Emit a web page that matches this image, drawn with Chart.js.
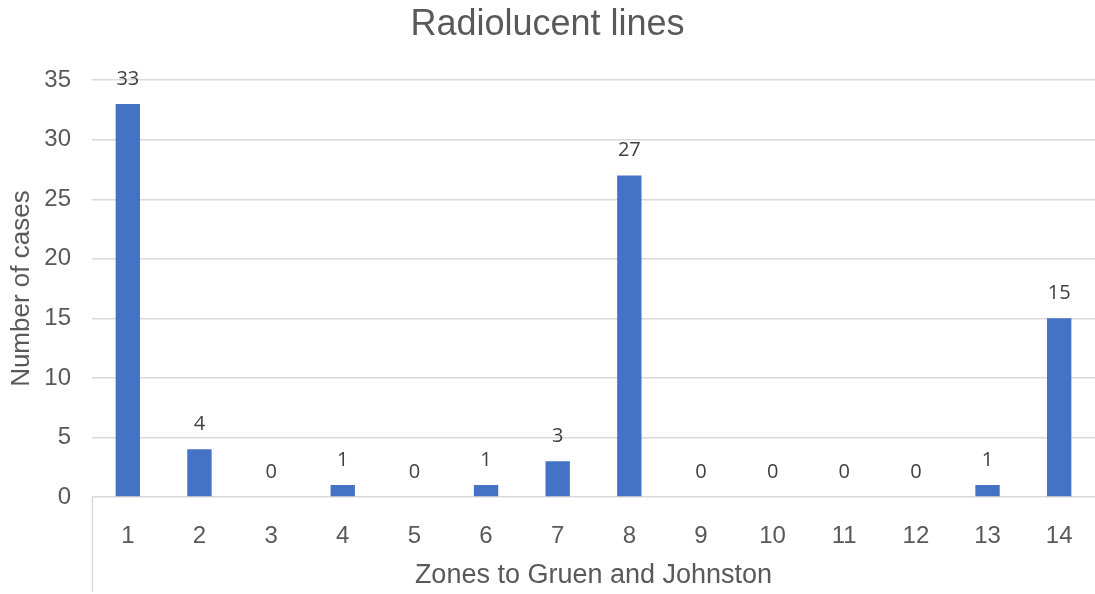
<!DOCTYPE html>
<html>
<head>
<meta charset="utf-8">
<title>Radiolucent lines</title>
<script src="https://cdn.jsdelivr.net/npm/chart.js@4/dist/chart.umd.min.js"></script>
<style>
    html, body { margin: 0; padding: 0; background: #fff; }
    #chart-wrap { width: 1095px; height: 594px; position: relative; }
</style>
</head>
<body>
<div id="chart-wrap"><canvas id="chart-radiolucent"></canvas></div>
<script>
const zones = ['1', '2', '3', '4', '5', '6', '7', '8', '9', '10', '11', '12', '13', '14'];
const cases = [33, 4, 0, 1, 0, 1, 3, 27, 0, 0, 0, 0, 1, 15];
const yTicks = [0, 5, 10, 15, 20, 25, 30, 35];

const AXIS_FONT = '"Liberation Sans", Arial, sans-serif';
const AXIS_COLOR = '#595959';
const GRID_COLOR = '#d9d9d9';

// values above each bar, like Excel data labels
const valueLabels = {
    id: 'valueLabels',
    afterDatasetsDraw(chart) {
        const ctx = chart.ctx;
        const meta = chart.getDatasetMeta(0);
        ctx.save();
        ctx.font = '20px "Open Sans", sans-serif';
        ctx.fillStyle = '#404040';
        ctx.textAlign = 'center';
        ctx.textBaseline = 'middle';
        meta.data.forEach((bar, i) => {
            ctx.fillText(String(cases[i]), bar.x, bar.y - 25);
        });
        ctx.restore();
    }
};

// the short vertical line under the category axis on the left
const categoryEdge = {
    id: 'categoryEdge',
    afterDraw(chart) {
        const ctx = chart.ctx;
        const area = chart.chartArea;
        ctx.save();
        ctx.strokeStyle = GRID_COLOR;
        ctx.lineWidth = 1.5;
        ctx.beginPath();
        ctx.moveTo(area.left + 0.5, area.bottom);
        ctx.lineTo(area.left + 0.5, chart.height - 2);
        ctx.stroke();
        ctx.restore();
    }
};

new Chart(document.getElementById('chart-radiolucent'), {
    type: 'bar',
    data: {
        labels: zones,
        datasets: [{
            label: 'Number of cases',
            data: cases,
            backgroundColor: '#4472c4',
            borderWidth: 0,
            barPercentage: 0.34,
            categoryPercentage: 1
        }]
    },
    options: {
        responsive: true,
        maintainAspectRatio: false,
        animation: false,
        layout: { padding: { left: 0, right: 0, top: 0, bottom: 0 } },
        plugins: {
            legend: { display: false },
            tooltip: { enabled: false },
            title: {
                display: true,
                text: 'Radiolucent lines',
                color: AXIS_COLOR,
                font: { family: AXIS_FONT, size: 36, weight: 'normal' },
                padding: { top: 3, bottom: 34 }
            }
        },
        scales: {
            x: {
                grid: { display: false },
                border: { display: false },
                ticks: {
                    color: AXIS_COLOR,
                    font: { family: AXIS_FONT, size: 24 },
                    padding: 17,
                    maxRotation: 0
                },
                title: {
                    display: true,
                    text: 'Zones to Gruen and Johnston',
                    color: AXIS_COLOR,
                    font: { family: AXIS_FONT, size: 27 },
                    padding: { top: 0, bottom: 2 }
                },
                afterFit(scale) { scale.height = 97; }
            },
            y: {
                min: 0,
                max: 35,
                afterBuildTicks(scale) { scale.ticks = yTicks.map(v => ({ value: v })); },
                grid: { color: GRID_COLOR, lineWidth: 1.5, drawTicks: false },
                border: { display: false },
                ticks: {
                    color: AXIS_COLOR,
                    font: { family: AXIS_FONT, size: 24 },
                    padding: 21
                },
                title: {
                    display: true,
                    text: 'Number of cases',
                    color: AXIS_COLOR,
                    font: { family: AXIS_FONT, size: 26 },
                    padding: { top: 6, bottom: 0 }
                },
                afterFit(scale) { scale.width = 92; }
            }
        }
    },
    plugins: [valueLabels, categoryEdge]
});
</script>
</body>
</html>
